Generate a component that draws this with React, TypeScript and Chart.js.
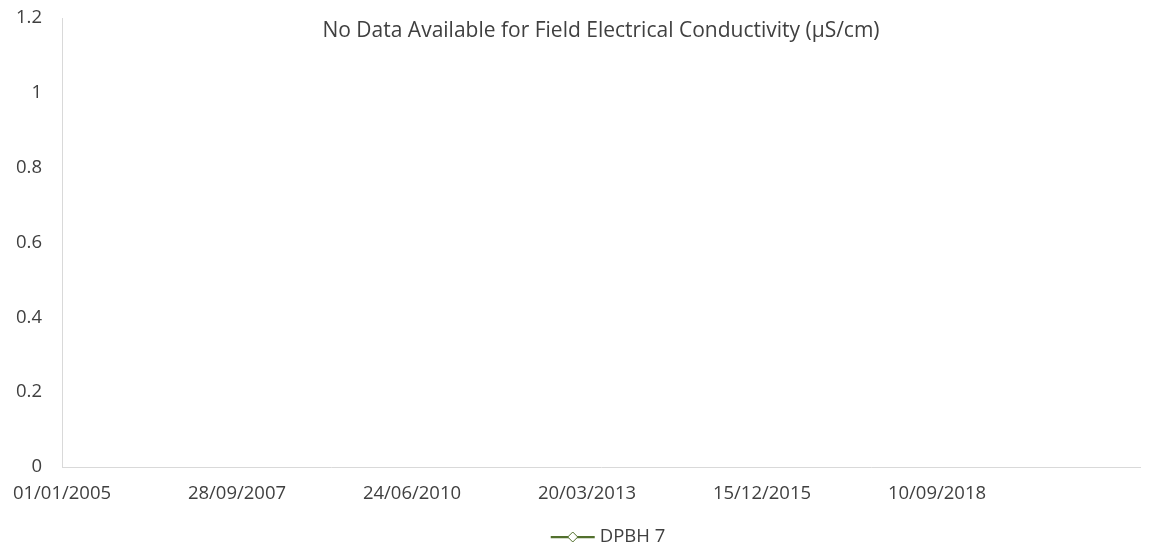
import React, { useEffect, useRef } from 'react';
import { Chart, registerables } from 'chart.js';

Chart.register(...registerables);

// ---- data ----
const seriesName = 'DPBH 7';
const seriesDates: string[] = [];
const seriesValues: number[] = [];
const xTickLabels = ['01/01/2005', '28/09/2007', '24/06/2010', '20/03/2013', '15/12/2015', '10/09/2018'];
const xAxisStart = '01/01/2005';
const xAxisEnd = '13/11/2021';
const yTickValues = [0, 0.2, 0.4, 0.6, 0.8, 1, 1.2];
const yTickLabels = ['0', '0.2', '0.4', '0.6', '0.8', '1', '1.2'];
const titleText = 'No Data Available for Field Electrical Conductivity (µS/cm)';

const SERIES_COLOR = '#52702d';
const AXIS_COLOR = '#d9d9d9';
const TEXT_COLOR = '#404040';
const FONT_FAMILY = "'Open Sans', 'Noto Sans', sans-serif";
const TICK_FONT_SIZE = 18.5;
const TITLE_FONT_SIZE = 21;

function toDay(s: string): number {
  const [d, m, y] = s.split('/').map(Number);
  return Date.UTC(y, m - 1, d) / 86400000;
}
function fromDay(v: number): string {
  const dt = new Date(Math.round(v) * 86400000);
  const dd = String(dt.getUTCDate()).padStart(2, '0');
  const mm = String(dt.getUTCMonth() + 1).padStart(2, '0');
  return `${dd}/${mm}/${dt.getUTCFullYear()}`;
}

const overlayPlugin = {
  id: 'overlay',
  afterDraw(chart: any) {
    const { ctx, chartArea } = chart;
    ctx.save();
    ctx.fillStyle = TEXT_COLOR;
    ctx.font = `${TITLE_FONT_SIZE}px ${FONT_FAMILY}`;
    ctx.textAlign = 'center';
    ctx.textBaseline = 'middle';
    ctx.fillText(titleText, (chartArea.left + chartArea.right) / 2, chartArea.top + 13);

    // legend
    ctx.font = `${TICK_FONT_SIZE}px ${FONT_FAMILY}`;
    const label = chart.data.datasets[0].label as string;
    const textW = ctx.measureText(label).width;
    const lineW = 44;
    const gap = 5;
    const total = lineW + gap + textW;
    const cx = 608;
    const y = 537;
    const x0 = cx - total / 2;
    ctx.strokeStyle = SERIES_COLOR;
    ctx.lineWidth = 2.25;
    ctx.beginPath();
    ctx.moveTo(x0, y);
    ctx.lineTo(x0 + lineW, y);
    ctx.stroke();
    const dx = x0 + lineW / 2;
    const r = 5;
    ctx.fillStyle = '#ffffff';
    ctx.lineWidth = 1;
    ctx.beginPath();
    ctx.moveTo(dx, y - r);
    ctx.lineTo(dx + r, y);
    ctx.lineTo(dx, y + r);
    ctx.lineTo(dx - r, y);
    ctx.closePath();
    ctx.fill();
    ctx.stroke();
    ctx.fillStyle = TEXT_COLOR;
    ctx.textAlign = 'left';
    ctx.fillText(label, x0 + lineW + gap, y);
    ctx.restore();
  },
};

export default function App() {
  const ref = useRef<HTMLCanvasElement | null>(null);
  useEffect(() => {
    document.body.style.margin = '0';
    const canvas = ref.current!;
    const chart = new Chart(canvas, {
      type: 'line',
      data: {
        datasets: [
          {
            label: seriesName,
            data: seriesDates.map((d, i) => ({ x: toDay(d), y: seriesValues[i] })),
            borderColor: SERIES_COLOR,
            backgroundColor: '#ffffff',
            pointStyle: 'rectRot',
            pointRadius: 5,
            borderWidth: 2.25,
          },
        ],
      },
      options: {
        responsive: false,
        animation: false,
        layout: { padding: { left: 0, right: 17, top: 18, bottom: 40 } },
        plugins: {
          legend: { display: false },
          title: { display: false },
          tooltip: { enabled: false },
        },
        scales: {
          x: {
            type: 'linear',
            min: toDay(xAxisStart),
            max: toDay(xAxisEnd),
            grid: { display: false, drawTicks: false },
            border: { display: true, color: AXIS_COLOR, width: 1 },
            afterBuildTicks: (scale: any) => {
              scale.ticks = xTickLabels.map((l) => ({ value: toDay(l) }));
            },
            afterFit: (scale: any) => {
              scale.height = 43;
              scale.paddingLeft = 0;
              scale.paddingRight = 0;
            },
            ticks: {
              autoSkip: false,
              maxRotation: 0,
              padding: 16,
              color: TEXT_COLOR,
              font: { family: FONT_FAMILY, size: TICK_FONT_SIZE },
              callback: (v: any) => fromDay(Number(v)),
            },
          },
          y: {
            min: 0,
            max: 1.2,
            grid: { display: false, drawTicks: false },
            border: { display: true, color: AXIS_COLOR, width: 1 },
            afterBuildTicks: (scale: any) => {
              scale.ticks = yTickValues.map((v) => ({ value: v }));
            },
            afterFit: (scale: any) => {
              scale.width = 62;
              scale.paddingTop = 0;
              scale.paddingBottom = 0;
            },
            ticks: {
              padding: 20,
              color: TEXT_COLOR,
              font: { family: FONT_FAMILY, size: TICK_FONT_SIZE },
              callback: (v: any) => {
                const i = yTickValues.findIndex((t) => Math.abs(t - Number(v)) < 1e-9);
                return i >= 0 ? yTickLabels[i] : '';
              },
            },
          },
        },
      },
      plugins: [overlayPlugin],
    } as any);
    return () => chart.destroy();
  }, []);
  return (
    <div style={{ position: 'absolute', left: 0, top: 0, width: 1157, height: 550, background: '#fff' }}>
      <canvas ref={ref} width={1157} height={550} style={{ display: 'block' }} />
    </div>
  );
}
